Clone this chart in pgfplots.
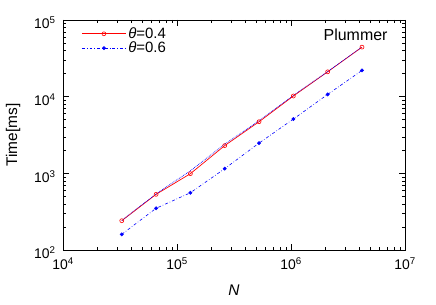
\documentclass[border=0pt]{standalone}
\usepackage{fontspec}
\setmainfont{Liberation Sans}
\usepackage{pgfplots}
\pgfplotsset{compat=1.18}
\begin{document}
\begin{tikzpicture}
\path[use as bounding box] (-63bp,-55bp) rectangle (373bp,250bp);
\begin{axis}[
  scale only axis, width=342bp, height=230bp,
  at={(0,0)}, anchor=south west,
  xmode=log, ymode=log,
  xmin=1e4, xmax=1e7, ymin=1e2, ymax=1e5,
  xtick={1e4,1e5,1e6,1e7},
  xticklabels={10\textsuperscript{4},10\textsuperscript{5},10\textsuperscript{6},10\textsuperscript{7}},
  ytick={1e2,1e3,1e4,1e5},
  yticklabels={10\textsuperscript{2},10\textsuperscript{3},10\textsuperscript{4},10\textsuperscript{5}},
  tick align=inside,
  major tick length=6bp, minor tick length=3bp,
  tick style={black, line width=0.5pt},
  axis line style={black, line width=0.6pt},
  tick label style={font=\fontsize{14}{16}\selectfont},
  yticklabel style={xshift=-4bp, yshift=-3bp},
  xticklabel style={yshift=-4bp},
  xlabel={\textit{N}}, ylabel={Time[ms]},
  label style={font=\fontsize{15.5}{18}\selectfont},
  xlabel style={at={(axis description cs:0.5,-0.174)}, anchor=center},
  ylabel style={at={(axis description cs:-0.146,0.5)}, anchor=center},
  legend style={at={(0.045,0.985)}, anchor=north west, draw=none, fill=none,
    font=\fontsize{15}{17}\selectfont, row sep=-2pt},
  legend cell align=left,
  legend image code/.code={\draw[mark repeat=2,mark phase=2] plot coordinates {(0bp,0bp)(22bp,0bp)(44bp,0bp)};},
]
\addplot[red, line width=0.7pt, mark=o, mark size=2pt, mark options={solid, line width=0.6pt}] coordinates {
 (32768,241) (65536,532) (131072,990) (262144,2300) (524288,4710) (1048576,10200) (2097152,21100) (4194304,44300)};
\addlegendentry{\textit{θ}=0.4}
\addplot[blue, line width=0.6pt, dash dot, mark=*, mark size=1.6pt, mark options={solid}] coordinates {
 (32768,160) (65536,350) (131072,558) (262144,1150) (524288,2480) (1048576,5100) (2097152,10700) (4194304,22000)};
\addlegendentry{\textit{θ}=0.6}
\addplot[blue, line width=0.7pt, densely dotted, forget plot] coordinates {
 (32768,243) (65536,540) (131072,1080) (262144,2400) (524288,4850) (1048576,10350) (2097152,21300) (4194304,44300)};
\node[anchor=north east, font=\fontsize{16}{18}\selectfont] at (rel axis cs:0.959,0.975) {Plummer};
\end{axis}
\end{tikzpicture}
\end{document}
